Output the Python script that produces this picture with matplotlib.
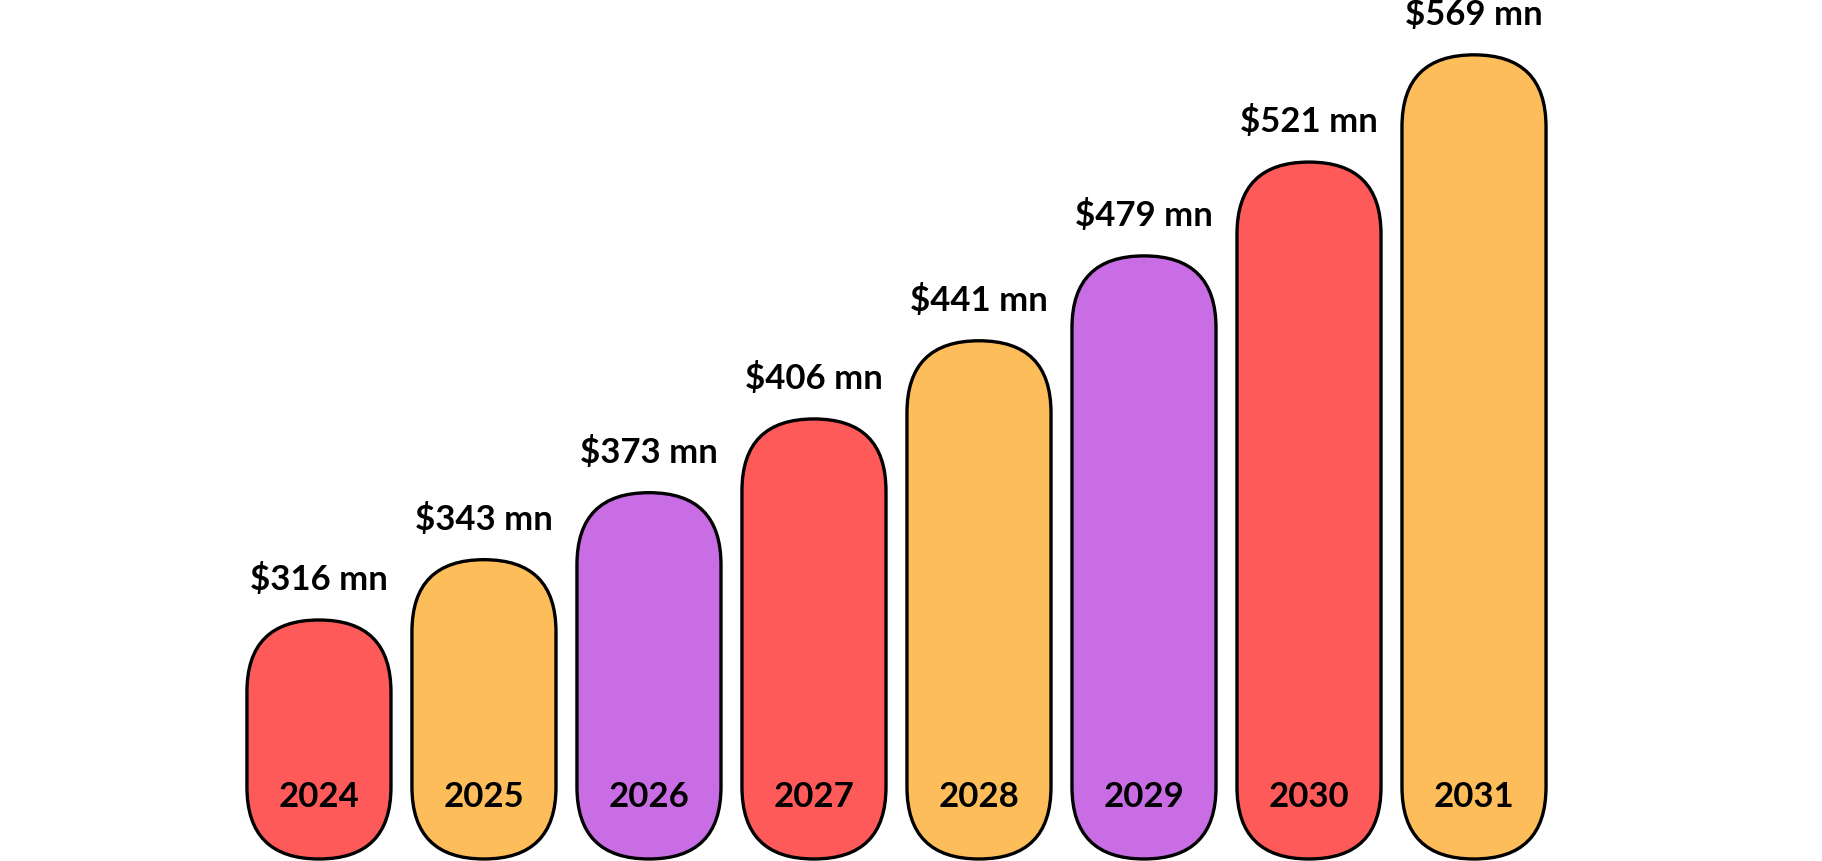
import matplotlib
matplotlib.use("Agg")
import matplotlib.pyplot as plt
from matplotlib.patches import FancyBboxPatch

years = ["2024", "2025", "2026", "2027", "2028", "2029", "2030", "2031"]
values = [316, 343, 373, 406, 441, 479, 521, 569]
colors = ["#FF5A5A", "#FDBD5B", "#C96DE5", "#FF5A5A", "#FDBD5B", "#C96DE5", "#FF5A5A", "#FDBD5B"]
base = 209

fig = plt.figure(figsize=(18.22, 8.62), dpi=100)
ax = fig.add_axes([0, 0, 1, 1])
ax.set_xlim(-1.933, 9.109)
ax.set_ylim(208.1, 594)
ax.axis("off")

width = 0.873
# data units per pixel
xpp = (9.109 + 1.933) / 1822
ypp = (594 - 208.1) / 862
aspect = ypp / xpp

for i, (y, v, c) in enumerate(zip(years, values, colors)):
    p = FancyBboxPatch((i - width / 2, base), width, v - base,
                       boxstyle=f"round,pad=0,rounding_size={width/2}",
                       mutation_aspect=aspect, facecolor=c, edgecolor="black",
                       linewidth=2.4, zorder=2)
    ax.add_patch(p)
    ax.text(i, base + 28, y, ha="center", va="center", fontsize=25,
            fontweight="bold", family="Lato", zorder=3)
    ax.text(i, v + 11, f"${v} mn", ha="center", va="bottom", fontsize=25,
            fontweight="bold", family="Lato", zorder=3)

fig.savefig("out.png", dpi=100)
